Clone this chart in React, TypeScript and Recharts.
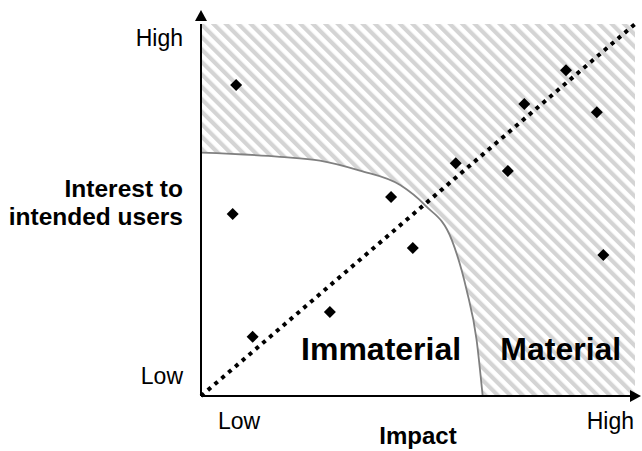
import {
  Area, CartesianGrid, ComposedChart, Line, ReferenceDot, Scatter, XAxis, YAxis,
} from 'recharts'

const FONT = '"Liberation Sans", Arial, sans-serif'

// issues: impact (x) vs interest to intended users (y), 0-10 scale
const impact = [0.81, 0.73, 1.19, 2.97, 4.38, 4.88, 5.87, 7.07, 7.45, 8.41, 9.12, 9.27]
const interest = [8.36, 4.89, 1.59, 2.26, 5.35, 3.98, 6.26, 6.05, 7.85, 8.76, 7.63, 3.79]

// materiality threshold curve
const thresholdX = [0, 1.82, 2.74, 3.66, 4.59, 5.16, 5.78, 6.12, 6.35, 6.49]
const thresholdY = [6.54, 6.43, 6.33, 6.06, 5.67, 5.13, 4.19, 2.85, 1.51, 0]

const diagonalX = [0, 10]
const diagonalY = [0, 10]

const axisTicks = [0, 10]
const tickLabels = ['Low', 'High']

const points = impact.map((x, i) => ({ x, y: interest[i] }))
const threshold = thresholdX.map((x, i) => ({ x, y: thresholdY[i] }))
const diagonal = diagonalX.map((x, i) => ({ x, y: diagonalY[i] }))

function Diamond(props: any) {
  const { cx, cy } = props
  const r = 6
  return <path d={`M${cx},${cy - r}L${cx + r},${cy}L${cx},${cy + r}L${cx - r},${cy}Z`} fill="#000" />
}

function XTick(props: any) {
  const { x, y, payload } = props
  const first = payload.value === axisTicks[0]
  return (
    <text x={first ? x + 17 : x} y={y + 33} textAnchor={first ? 'start' : 'end'}
          fontFamily={FONT} fontSize={23} fill="#000">
      {tickLabels[axisTicks.indexOf(payload.value)]}
    </text>
  )
}

function YTick(props: any) {
  const { x, y, payload } = props
  const first = payload.value === axisTicks[0]
  return (
    <text x={x - 18} y={first ? y - 12 : y + 22} textAnchor="end"
          fontFamily={FONT} fontSize={23} fill="#000">
      {tickLabels[axisTicks.indexOf(payload.value)]}
    </text>
  )
}

function XTitle(props: any) {
  const vb = props.viewBox
  return (
    <text x={vb.x + vb.width / 2} y={vb.y + 48} textAnchor="middle"
          fontFamily={FONT} fontSize={24} fontWeight="bold" fill="#000">
      Impact
    </text>
  )
}

function YTitle(props: any) {
  const vb = props.viewBox
  const x = vb.x + vb.width - 18
  return (
    <text textAnchor="end" fontFamily={FONT} fontSize={24.5} fontWeight="bold" fill="#000">
      <tspan x={x} y={vb.y + 173}>Interest to</tspan>
      <tspan x={x} y={vb.y + 201}>intended users</tspan>
    </text>
  )
}

const regionLabel = { position: 'center' as const, fontSize: 32, fontWeight: 'bold', fill: '#000', fontFamily: FONT }

export default function App() {
  return (
    <div style={{ position: 'absolute', left: 0, top: 0, background: '#fff' }}>
      <ComposedChart width={642} height={451} margin={{ top: 24, right: 7, bottom: 25, left: 141 }}>
        <defs>
          <pattern id="hatch" patternUnits="userSpaceOnUse" width="8.8" height="8.8" patternTransform="rotate(-45)">
            <rect width="8.8" height="8.8" fill="#fff" />
            <rect width="4.2" height="8.8" fill="#d4d4d4" />
          </pattern>
          <marker id="arrowX" markerUnits="userSpaceOnUse" markerWidth="11" markerHeight="12"
                  refX="5" refY="6" orient="auto" overflow="visible">
            <path d="M0,0L11,6L0,12Z" fill="#000" />
          </marker>
          <marker id="arrowY" markerUnits="userSpaceOnUse" markerWidth="11" markerHeight="12"
                  refX="-3" refY="6" orient="auto-start-reverse" overflow="visible">
            <path d="M0,0L11,6L0,12Z" fill="#000" />
          </marker>
        </defs>
        <CartesianGrid horizontal={false} vertical={false} fill="url(#hatch)" stroke="none" />
        <XAxis type="number" dataKey="x" domain={[0, 10]} ticks={axisTicks} height={30}
               tickSize={0} tickMargin={0} tickLine={false} tick={<XTick />}
               axisLine={{ stroke: '#000', strokeWidth: 2, markerEnd: 'url(#arrowX)' }}
               label={XTitle} />
        <YAxis type="number" dataKey="y" domain={[0, 10]} ticks={axisTicks} width={60}
               tickSize={0} tickMargin={0} tickLine={false} tick={<YTick />}
               axisLine={{ stroke: '#000', strokeWidth: 2, markerStart: 'url(#arrowY)' }}
               label={YTitle} />
        <Area data={threshold} dataKey="y" type="monotone" baseValue={0}
              fill="#fff" fillOpacity={1} stroke="#808080" strokeWidth={1.8}
              dot={false} activeDot={false} isAnimationActive={false} />
        <Line data={diagonal} dataKey="y" type="linear" stroke="#000" strokeWidth={4}
              strokeDasharray="4 5" dot={false} activeDot={false} isAnimationActive={false} />
        <Scatter data={points} shape={<Diamond />} isAnimationActive={false} />
        <ReferenceDot x={4.15} y={1.27} r={0} fill="none" stroke="none" label={{ value: 'Immaterial', ...regionLabel }} />
        <ReferenceDot x={8.29} y={1.27} r={0} fill="none" stroke="none" label={{ value: 'Material', ...regionLabel }} />
      </ComposedChart>
    </div>
  )
}
